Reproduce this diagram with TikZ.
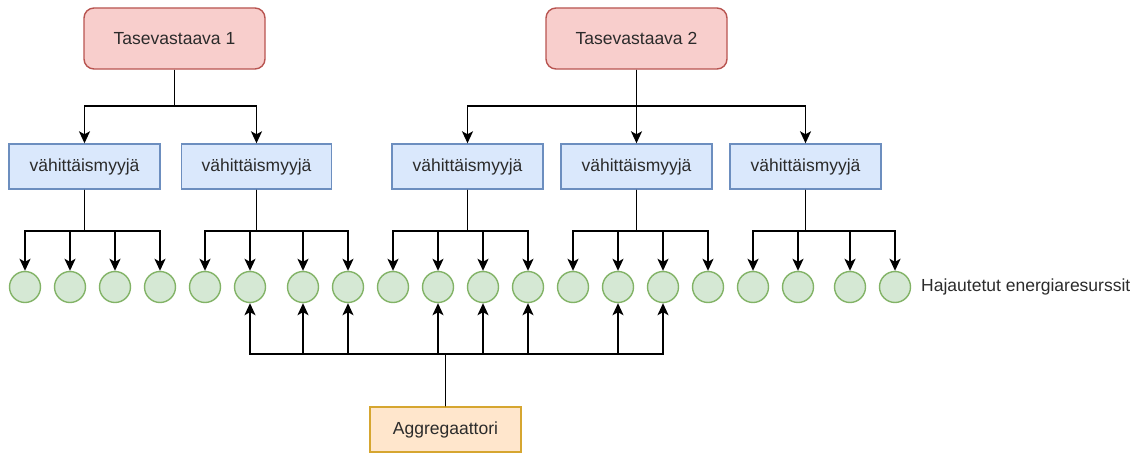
\documentclass[tikz,border=0pt]{standalone}
\usepackage{fontspec}
\setmainfont{Liberation Sans}
\usetikzlibrary{arrows.meta}
\definecolor{redfill}{HTML}{F8CECC}
\definecolor{redline}{HTML}{B85450}
\definecolor{bluefill}{HTML}{DAE8FC}
\definecolor{blueline}{HTML}{6C8EBF}
\definecolor{greenfill}{HTML}{D5E8D4}
\definecolor{greenline}{HTML}{82B366}
\definecolor{orangefill}{HTML}{FFE6CC}
\definecolor{orangeline}{HTML}{D6A630}
\definecolor{txt}{HTML}{2B2B2B}
\begin{document}
\begin{tikzpicture}[x=1pt,y=-1pt,
  lbl/.style={font=\fontsize{17.5}{20}\selectfont, text=txt},
  tbox/.style={lbl, draw=redline, fill=redfill, line width=1.4pt, rounded corners=10pt,
    minimum width=181pt, minimum height=61pt, inner sep=0pt},
  vbox/.style={lbl, draw=blueline, fill=bluefill, line width=1.4pt,
    minimum width=151pt, minimum height=45pt, inner sep=0pt},
  abox/.style={lbl, draw=orangeline, fill=orangefill, line width=1.4pt,
    minimum width=151pt, minimum height=45pt, inner sep=0pt},
  der/.style={circle, draw=greenline, fill=greenfill, line width=1.4pt,
    minimum size=31pt, inner sep=0pt},
  arr/.style={line width=1.7pt, -{Stealth[length=12pt,width=11pt,inset=3pt]}}]
\useasboundingbox (0,0) rectangle (1147,452);

\node[tbox] (t1) at (174.5,38.5) {Tasevastaava 1};
\node[tbox] (t2) at (636.5,38.5) {Tasevastaava 2};

\node[vbox] (v1) at (84.5,166.5) {vähittäismyyjä};
\node[vbox, minimum width=150pt] (v2) at (256.5,166.5) {vähittäismyyjä};
\node[vbox] (v3) at (467.5,166.5) {vähittäismyyjä};
\node[vbox] (v4) at (636.5,166.5) {vähittäismyyjä};
\node[vbox] (v5) at (805.5,166.5) {vähittäismyyjä};

\foreach \x [count=\i] in {25,70,115,160,205,250,303,348,393,438,483,528,573,618,663,708,753,798,850,895}
  \node[der] (c\i) at (\x,287) {};

\node[lbl, anchor=west, inner sep=0pt] (lab) at (921,287) {Hajautetut energiaresurssit};

\node[abox] (agg) at (445.5,429.5) {Aggregaattori};

% Tasevastaava connectors
\foreach \v in {v1,v2}
  \draw[arr] (t1.south) -- (t1.south |- 0,106) -| (\v.north);
\foreach \v in {v3,v4,v5}
  \draw[arr] (t2.south) -- (t2.south |- 0,106) -| (\v.north);

% retailer to resources
\foreach \v/\first in {v1/1, v2/5, v3/9, v4/13, v5/17}
  \foreach \k in {0,1,2,3} {
    \pgfmathtruncatemacro{\n}{\first+\k}
    \draw[arr] (\v.south) -- (\v.south |- 0,231) -| (c\n.north);
  }

% aggregator
\foreach \r in {6,7,8,10,11,12,14,15}
  \draw[arr] (agg.north) -- (agg.north |- 0,354) -| (c\r.south);
\end{tikzpicture}
\end{document}
